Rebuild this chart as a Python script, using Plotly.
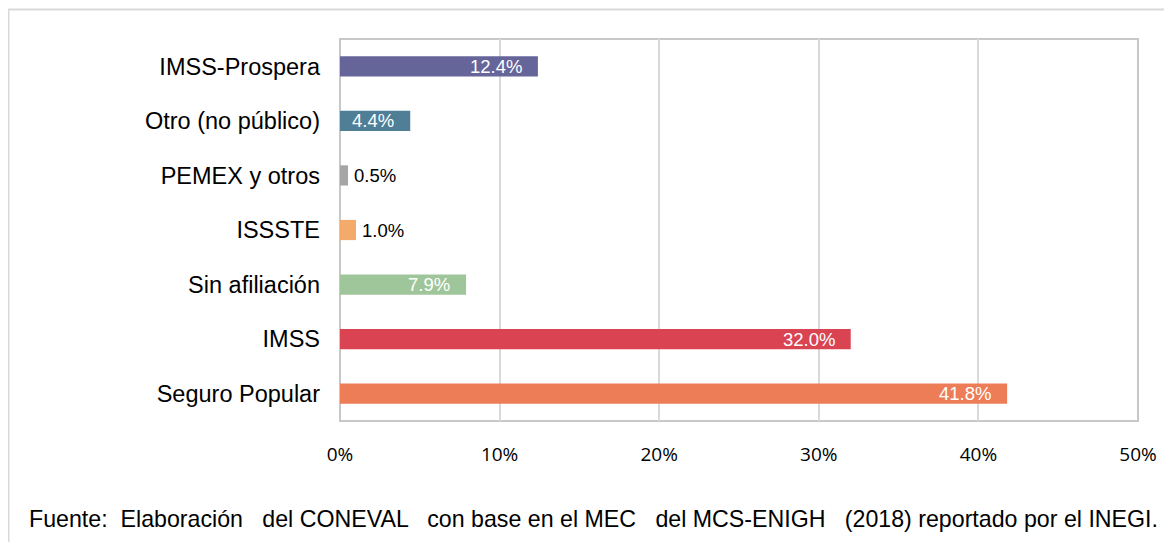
import plotly.graph_objects as go

# ---- data (bottom to top) ----
categories = ["Seguro Popular", "IMSS", "Sin afiliación", "ISSSTE",
              "PEMEX y otros", "Otro (no público)", "IMSS-Prospera"]
values = [41.8, 32.0, 7.9, 1.0, 0.5, 4.4, 12.4]
bar_colors = ["#ED7D57", "#D94352", "#9FC59B", "#F4AA6A",
              "#A5A5A5", "#4E7F96", "#65659A"]
x_ticks = [0, 10, 20, 30, 40, 50]
x_ticklabels = ["0%", "10%", "20%", "30%", "40%", "50%"]
source_text = ("Fuente:  Elaboración   del CONEVAL   con base en el MEC   del MCS-ENIGH   "
               "(2018) reportado por el INEGI.")

W, H = 1172, 542
OFF = 8  # page body margin
L, T = 340 - OFF, 39 - OFF
R = W - (1138 - OFF)
B = H - (421 - OFF)
pw, ph = W - L - R, H - T - B


def px_to_paper_x(px):
    return (px - OFF - L) / pw


def px_to_paper_y(py):
    return (H - B - (py - OFF)) / ph


fig = go.Figure()
fig.add_trace(go.Bar(
    x=values, y=categories, orientation="h",
    marker=dict(color=bar_colors, line=dict(width=0)),
    hoverinfo="x+y",
))

annotations = []
for cat, v in zip(categories, values):
    inside = v >= 2
    annotations.append(dict(
        x=v, y=cat, xref="x", yref="y",
        text=f"{v:.1f}%", showarrow=False,
        xanchor="right" if inside else "left",
        xshift=-14 if inside else 4,
        font=dict(family="Liberation Sans, Arial, sans-serif", size=18.5,
                  color="#FFFFFF" if inside else "#000000"),
    ))

annotations.append(dict(
    x=px_to_paper_x(27), y=px_to_paper_y(519), xref="paper", yref="paper",
    xanchor="left", yanchor="middle", showarrow=False,
    text=source_text,
    font=dict(family="Liberation Sans, Arial, sans-serif", size=23.2, color="#000000"),
))

shapes = [
    # plot frame
    dict(type="rect", xref="paper", yref="paper", x0=0, x1=1, y0=0, y1=1,
         line=dict(color="#C8C8C8", width=2), layer="below"),
    # outer chart border (top and left)
    dict(type="line", xref="paper", yref="paper",
         x0=px_to_paper_x(OFF), x1=px_to_paper_x(W + 20),
         y0=px_to_paper_y(9.5), y1=px_to_paper_y(9.5),
         line=dict(color="#D9D9D9", width=2)),
    dict(type="line", xref="paper", yref="paper",
         x0=px_to_paper_x(OFF + 0.5), x1=px_to_paper_x(OFF + 0.5),
         y0=px_to_paper_y(9), y1=px_to_paper_y(H + 20),
         line=dict(color="#D9D9D9", width=2)),
]

fig.update_layout(
    width=W, height=H,
    margin=dict(l=L, r=R, t=T, b=B, autoexpand=False),
    paper_bgcolor="#FFFFFF", plot_bgcolor="#FFFFFF",
    bargap=0.63,
    showlegend=False,
    annotations=annotations,
    shapes=shapes,
    xaxis=dict(
        range=[0, 50], tickvals=x_ticks, ticktext=x_ticklabels,
        showgrid=True, gridcolor="#D9D9D9", gridwidth=2,
        zeroline=False, showline=False, ticks="",
        ticklabelstandoff=20,
        tickfont=dict(family="Open Sans, sans-serif", size=19, color="#000000"),
        fixedrange=True,
    ),
    yaxis=dict(
        categoryorder="array", categoryarray=categories,
        showgrid=False, zeroline=False, showline=False, ticks="",
        ticklabelstandoff=19,
        tickfont=dict(family="Liberation Sans, Arial, sans-serif", size=23.5, color="#000000"),
        fixedrange=True,
    ),
)

fig.write_html("out.html")
